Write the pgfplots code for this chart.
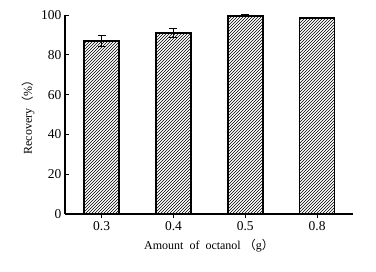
\documentclass[border=0pt]{standalone}
\usepackage{pgfplots}
\pgfplotsset{compat=1.18}
\usepackage{fontspec}
\setmainfont{Liberation Serif}
\newfontfamily\cjk{Noto Sans CJK SC}
\usetikzlibrary{patterns}
\begin{document}
\begin{tikzpicture}
\useasboundingbox (-65pt,-58pt) rectangle (311pt,214pt);
\begin{axis}[
  at={(0,0)}, anchor=south west,
  scale only axis, width=288pt, height=199pt,
  axis lines=left, axis line style={line width=1.6pt,-},
  ymin=0, ymax=100, ytick={0,20,...,100},
  xmin=-0.51, xmax=3.5, xtick=data,
  xticklabels={0.3,0.4,0.5,0.8},
  tick style={black, line width=0.6pt}, tick align=inside,
  major tick length=4pt,
  ticklabel style={font=\fontsize{13.5}{15}\selectfont},
  /pgf/number format/assume math mode=true,
  ylabel={Recovery{\cjk（}\%{\cjk）}},
  xlabel={Amount\ \ of\ \ octanol\ {\cjk（}g{\cjk）}},
  label style={font=\fontsize{12}{14}\selectfont},
  ylabel style={at={(axis description cs:-0.128,0.5)}, anchor=center},
  xlabel style={yshift=-2pt},
  ybar, bar width=35pt,
  clip=false,
]
\addplot[draw=black, line width=1.8pt, pattern=north east lines,
  error bars/.cd, y dir=both, y explicit,
  error bar style={line width=0.8pt},
  error mark options={rotate=90, mark size=4pt, line width=0.8pt}]
  coordinates {
  (0,87.1) +- (0,2.7)
  (1,91.1) +- (0,2.3)
  (2,99.6) +- (0,0.5)
  (3,98.5) +- (0,0)
  };
\end{axis}
\end{tikzpicture}
\end{document}
